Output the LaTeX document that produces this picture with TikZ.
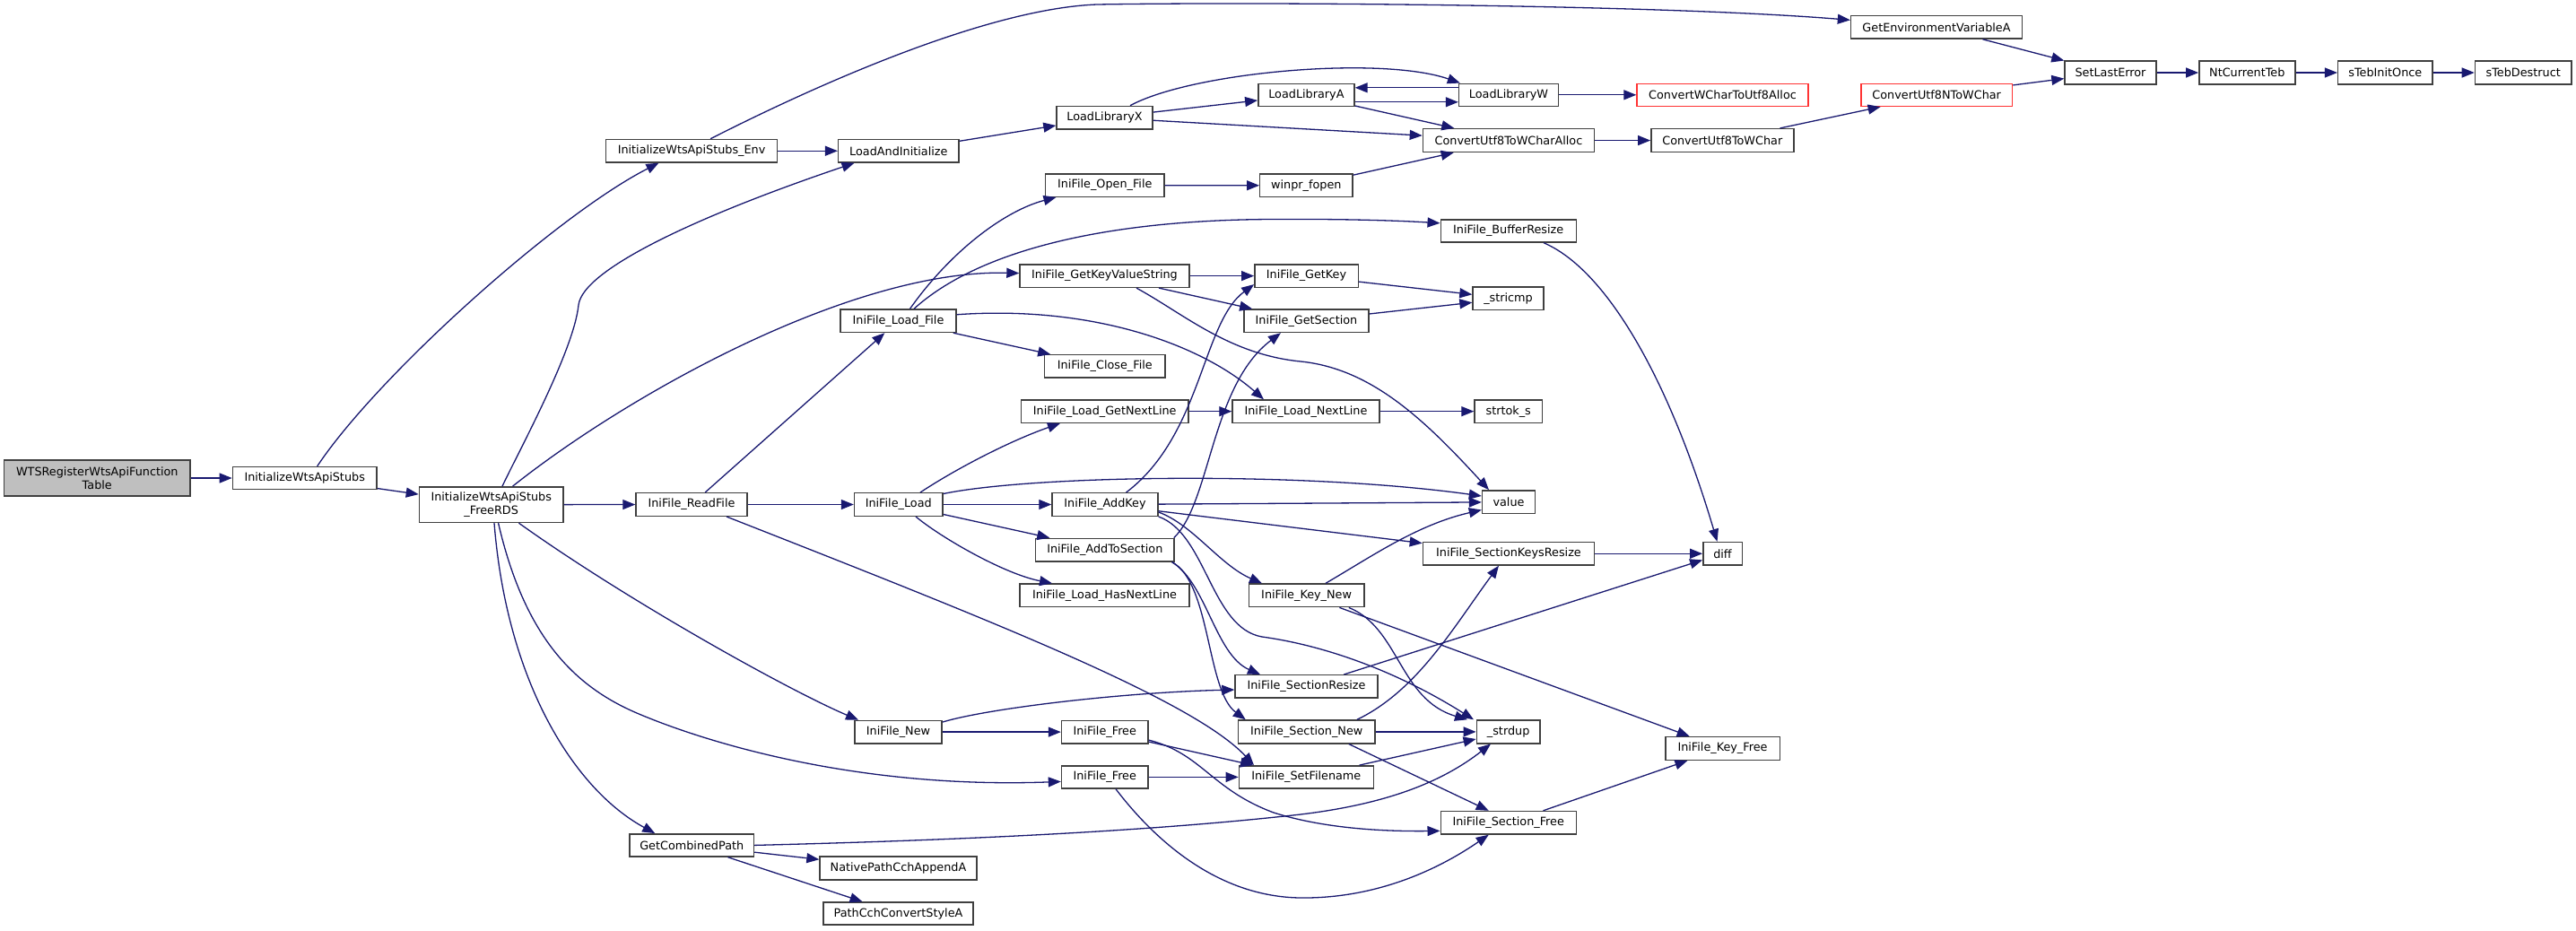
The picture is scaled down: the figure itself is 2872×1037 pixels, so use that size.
\documentclass[tikz,border=0pt]{standalone}
\usepackage{fontspec}
\setmainfont{DejaVu Sans}
\usetikzlibrary{arrows.meta}
\definecolor{edgec}{HTML}{191970}
\definecolor{bordc}{HTML}{404040}
\definecolor{redc}{HTML}{FF3333}
\definecolor{grayf}{HTML}{BFBFBF}
\newcommand{\mkfn}[7][]{\node[fnbox,#1,minimum width={(#5-#3)*1pt},minimum height={(#6-#4)*1pt}] (#2) at ({(#3+#5)/2},{(#4+#6)/2}) {#7};}
\begin{document}
\begin{tikzpicture}[x=1pt,y=-1pt,
  fnbox/.style={draw=bordc,line width=1.4pt,fill=white,inner sep=0pt,text=black,
    font=\fontsize{12.8}{14.5}\selectfont},
  redbox/.style={draw=redc},
  rootbox/.style={fill=grayf,align=center},
  edge/.style={draw=edgec,line width=1.3pt,-{Triangle[length=14pt,width=11pt]}}]
\useasboundingbox[fill=white] (0,0) rectangle (2872,1037);
% nodes
\mkfn[rootbox]{wts}{4.6}{513}{212}{553}{WTSRegisterWtsApiFunction\\Table}
\mkfn{iws}{259.4}{520.5}{420}{545.5}{InitializeWtsApiStubs}
\mkfn[align=center]{frd}{467.4}{542.8}{628}{582.5}{InitializeWtsApiStubs\\\_FreeRDS}
\mkfn{env}{675.4}{155.5}{866.7}{181}{InitializeWtsApiStubs\_Env}
\mkfn{lai}{934.6}{155.5}{1069}{181}{LoadAndInitialize}
\mkfn{llx}{1178}{118.4}{1285}{144}{LoadLibraryX}
\mkfn{lla}{1402.8}{93.2}{1510}{118.4}{LoadLibraryA}
\mkfn{llw}{1626.5}{93.2}{1737.4}{118.4}{LoadLibraryW}
\mkfn[redbox]{cwu}{1825}{93.2}{2016}{118.4}{ConvertWCharToUtf8Alloc}
\mkfn[redbox]{cun}{2074.8}{93.2}{2243.6}{118.4}{ConvertUtf8NToWChar}
\mkfn{gev}{2063.5}{17.6}{2254.5}{43.1}{GetEnvironmentVariableA}
\mkfn{cua}{1586.4}{143.6}{1777.5}{169.5}{ConvertUtf8ToWCharAlloc}
\mkfn{cuw}{1840.8}{143.6}{1999.8}{169.5}{ConvertUtf8ToWChar}
\mkfn{sle}{2302}{68}{2404}{94}{SetLastError}
\mkfn{nct}{2451.8}{68}{2558.8}{94}{NtCurrentTeb}
\mkfn{sti}{2606.6}{68}{2712}{94}{sTebInitOnce}
\mkfn{std}{2759.4}{68}{2867}{94}{sTebDestruct}
\mkfn{iof}{1165.6}{194}{1298}{219.2}{IniFile\_Open\_File}
\mkfn{wfo}{1404.7}{194}{1508}{219.6}{winpr\_fopen}
\mkfn{ibr}{1606.2}{244.8}{1757.2}{270}{IniFile\_BufferResize}
\mkfn{gkv}{1137}{294.8}{1326}{320.4}{IniFile\_GetKeyValueString}
\mkfn{gk}{1398.8}{294.8}{1514.2}{320.4}{IniFile\_GetKey}
\mkfn{sic}{1642}{320}{1721}{345.6}{\_stricmp}
\mkfn{gs}{1386.9}{345}{1526}{370.5}{IniFile\_GetSection}
\mkfn{ilf}{937}{345}{1066}{370.5}{IniFile\_Load\_File}
\mkfn{icf}{1164.6}{395.7}{1299}{420.9}{IniFile\_Close\_File}
\mkfn{lgn}{1138.5}{446}{1325}{471.3}{IniFile\_Load\_GetNextLine}
\mkfn{lnl}{1374}{446}{1538}{471.3}{IniFile\_Load\_NextLine}
\mkfn{stk}{1644}{446}{1719.5}{471.3}{strtok\_s}
\mkfn{rf}{709}{549.7}{833}{575.3}{IniFile\_ReadFile}
\mkfn{ild}{952.5}{549.7}{1051}{575.3}{IniFile\_Load}
\mkfn{ak}{1173}{549.7}{1291}{575.3}{IniFile\_AddKey}
\mkfn{val}{1652.5}{546.9}{1711.5}{572.6}{value}
\mkfn{ats}{1154.6}{600.3}{1309}{626}{IniFile\_AddToSection}
\mkfn{skr}{1586.4}{604.5}{1777.5}{630}{IniFile\_SectionKeysResize}
\mkfn{dif}{1898.8}{604.5}{1942.2}{630}{diff}
\mkfn{hnl}{1137}{651}{1326}{676.7}{IniFile\_Load\_HasNextLine}
\mkfn{kn}{1392.4}{651}{1520.8}{676.7}{IniFile\_Key\_New}
\mkfn{sr}{1377}{752.7}{1536}{778}{IniFile\_SectionResize}
\mkfn{new}{953}{803.4}{1050}{828.8}{IniFile\_New}
\mkfn{fr1}{1183.5}{803.4}{1280}{828.8}{IniFile\_Free}
\mkfn{sn}{1380.5}{803}{1533}{828.8}{IniFile\_Section\_New}
\mkfn{sd}{1646.3}{803}{1717}{828.8}{\_strdup}
\mkfn{kf}{1856.8}{821.6}{1984.2}{847.3}{IniFile\_Key\_Free}
\mkfn{fr2}{1183.5}{853.8}{1280}{879}{IniFile\_Free}
\mkfn{sf}{1381.4}{853.8}{1531.2}{879}{IniFile\_SetFilename}
\mkfn{sfr}{1606.2}{904.5}{1757.2}{930}{IniFile\_Section\_Free}
\mkfn{gcp}{702}{929.8}{840.5}{955}{GetCombinedPath}
\mkfn{npa}{914}{955}{1089}{981}{NativePathCchAppendA}
\mkfn{pcs}{918}{1006}{1085}{1031}{PathCchConvertStyleA}
% straight connectors
\draw[edge] (wts) -- (iws);
\draw[edge] (iws) -- (frd);
\draw[edge] (env) -- (lai);
\draw[edge] (lai) -- (llx);
\draw[edge] (llx) -- (lla);
\draw[edge] (llx) -- (cua);
\draw[edge] (lla) -- (cua);
\draw[edge] ([yshift=-8pt]lla.east) -- ([yshift=-8pt]llw.west);
\draw[edge] ([yshift=8pt]llw.west) -- ([yshift=8pt]lla.east);
\draw[edge] (llw) -- (cwu);
\draw[edge] (cua) -- (cuw);
\draw[edge] (cuw) -- (cun);
\draw[edge] (gev) -- (sle);
\draw[edge] (cun) -- (sle);
\draw[edge] (sle) -- (nct);
\draw[edge] (nct) -- (sti);
\draw[edge] (sti) -- (std);
\draw[edge] (iof) -- (wfo);
\draw[edge] (wfo) -- (cua);
\draw[edge] (gkv) -- (gk);
\draw[edge] (gkv) -- (gs);
\draw[edge] (gk) -- (sic);
\draw[edge] (gs) -- (sic);
\draw[edge] (lgn) -- (lnl);
\draw[edge] (lnl) -- (stk);
\draw[edge] (frd) -- (rf);
\draw[edge] (rf) -- (ilf);
\draw[edge] (rf) -- (ild);
\draw[edge] (ilf) -- (icf);
\draw[edge] (ild) -- (ak);
\draw[edge] (ild) -- (ats);
\draw[edge] (ak) -- (val);
\draw[edge] (ak) -- (skr);
\draw[edge] (kn) -- (kf);
\draw[edge] (skr) -- (dif);
\draw[edge] (sr) -- (dif);
\draw[edge] (sn) -- (sd);
\draw[edge] ([xshift=47pt]sn.south) -- ([xshift=-22pt]sfr.north);
\draw[edge] (sf) -- (sd);
\draw[edge] (sfr) -- (kf);
\draw[edge] (new) -- (fr1);
\draw[edge] (fr1) -- (sf);
\draw[edge] (fr2) -- (sf);
\draw[edge] (gcp) -- (npa);
\draw[edge] (gcp) -- (pcs);
% curved connectors
\draw[edge] ([xshift=14pt]iws.north) .. controls (420,420) and (620,240) .. ([xshift=-36.6pt]env.south);
\draw[edge] ([xshift=21pt]env.north) .. controls (880,110) and (1090,10) .. (1223,5) .. controls (1400,2) and (1850,5) .. ([yshift=8pt]gev.west);
\draw[edge] ([xshift=28.5pt]llx.north) .. controls (1330,80) and (1540,62) .. ([xshift=2pt]llw.north west);
\draw[edge] ([xshift=12.3pt]frd.north) .. controls (580,500) and (640,390) .. (645,340) .. controls (650,300) and (780,240) .. ([xshift=-49.3pt]lai.south);
\draw[edge] ([xshift=23.9pt]frd.north) .. controls (700,440) and (950,300) .. ([yshift=3pt]gkv.west);
\draw[edge] ([xshift=30.8pt]frd.south) .. controls (700,670) and (880,770) .. ([xshift=-44.5pt]new.north);
\draw[edge] ([xshift=7.9pt]frd.south) .. controls (585,710) and (640,765) .. (710,795) .. controls (780,825) and (950,880) .. ([yshift=-5pt]fr2.west);
\draw[edge] ([xshift=3.3pt]frd.south) .. controls (565,760) and (640,880) .. ([xshift=-41pt]gcp.north);
\draw[edge] ([xshift=39pt]rf.south) .. controls (1100,690) and (1330,780) .. ([xshift=-58.3pt]sf.north);
\draw[edge] ([xshift=13pt]ilf.north) .. controls (1060,280) and (1120,235) .. ([xshift=-54.3pt]iof.south);
\draw[edge] ([xshift=17.5pt]ilf.north) .. controls (1090,280) and (1230,245) .. (1420,244.5) .. controls (1500,244) and (1560,246) .. ([yshift=8.6pt]ibr.west);
\draw[edge] ([yshift=7pt]ilf.east) .. controls (1220,340) and (1340,385) .. ([xshift=-47pt]lnl.north);
\draw[edge] ([xshift=35.5pt]gkv.south) .. controls (1320,350) and (1370,395) .. (1450,403) .. controls (1530,411) and (1590,470) .. ([xshift=-22pt]val.north);
\draw[edge] ([xshift=24.25pt]ild.north) .. controls (1070,520) and (1130,490) .. ([xshift=-49.75pt]lgn.south);
\draw[edge] ([yshift=12pt]ild.east) .. controls (1150,530) and (1450,525) .. ([yshift=6.75pt]val.west);
\draw[edge] ([xshift=19.25pt]ild.south) .. controls (1050,600) and (1120,640) .. ([xshift=-58.5pt]hnl.north);
\draw[edge] ([xshift=23.6pt]ak.north) .. controls (1340,485) and (1340,360) .. ([yshift=4pt]gk.south west);
\draw[edge] ([xshift=77pt]ats.north) .. controls (1350,560) and (1350,430) .. ([xshift=-28.5pt]gs.south);
\draw[edge] ([xshift=-3pt]ats.south east) .. controls (1345,650) and (1355,730) .. ([xshift=-51.5pt]sr.north);
\draw[edge] ([xshift=-3pt]ats.south east) .. controls (1350,650) and (1345,770) .. ([xshift=-68pt]sn.north);
\draw[edge] ([yshift=-8.5pt]ak.east) .. controls (1330,585) and (1360,630) .. ([xshift=-49.6pt]kn.north);
\draw[edge] (ak.south east) .. controls (1345,595) and (1350,700) .. (1407,710) .. controls (1480,720) and (1560,750) .. ([xshift=-38.65pt]sd.north);
\draw[edge] ([xshift=47.2pt]kn.south) .. controls (1560,700) and (1560,780) .. ([xshift=-45.65pt]sd.north);
\draw[edge] ([xshift=21.4pt]kn.north) .. controls (1530,620) and (1580,585) .. ([yshift=-8.75pt]val.west);
\draw[edge] ([xshift=56.25pt]sn.north) .. controls (1580,770) and (1620,700) .. ([xshift=-11pt]skr.south);
\draw[edge] ([xshift=39.3pt]ibr.south) .. controls (1790,300) and (1860,420) .. ([xshift=-6pt]dif.north);
\draw[edge] ([yshift=11pt]new.east) .. controls (1100,790) and (1250,772) .. ([yshift=-3.65pt]sr.west);
\draw[edge] ([yshift=-9pt]fr1.east) .. controls (1340,840) and (1350,880) .. (1420,906) .. controls (1480,925) and (1550,927) .. ([yshift=-9.15pt]sfr.west);
\draw[edge] ([xshift=12.25pt]fr2.south) .. controls (1290,940) and (1360,1000) .. (1450,1001) .. controls (1540,1002) and (1610,965) .. ([xshift=-22pt]sfr.south);
\draw[edge] (gcp.east) .. controls (1100,936) and (1300,925) .. (1450,908) .. controls (1550,896) and (1610,870) .. ([xshift=-19.65pt]sd.south);
\end{tikzpicture}
\end{document}
